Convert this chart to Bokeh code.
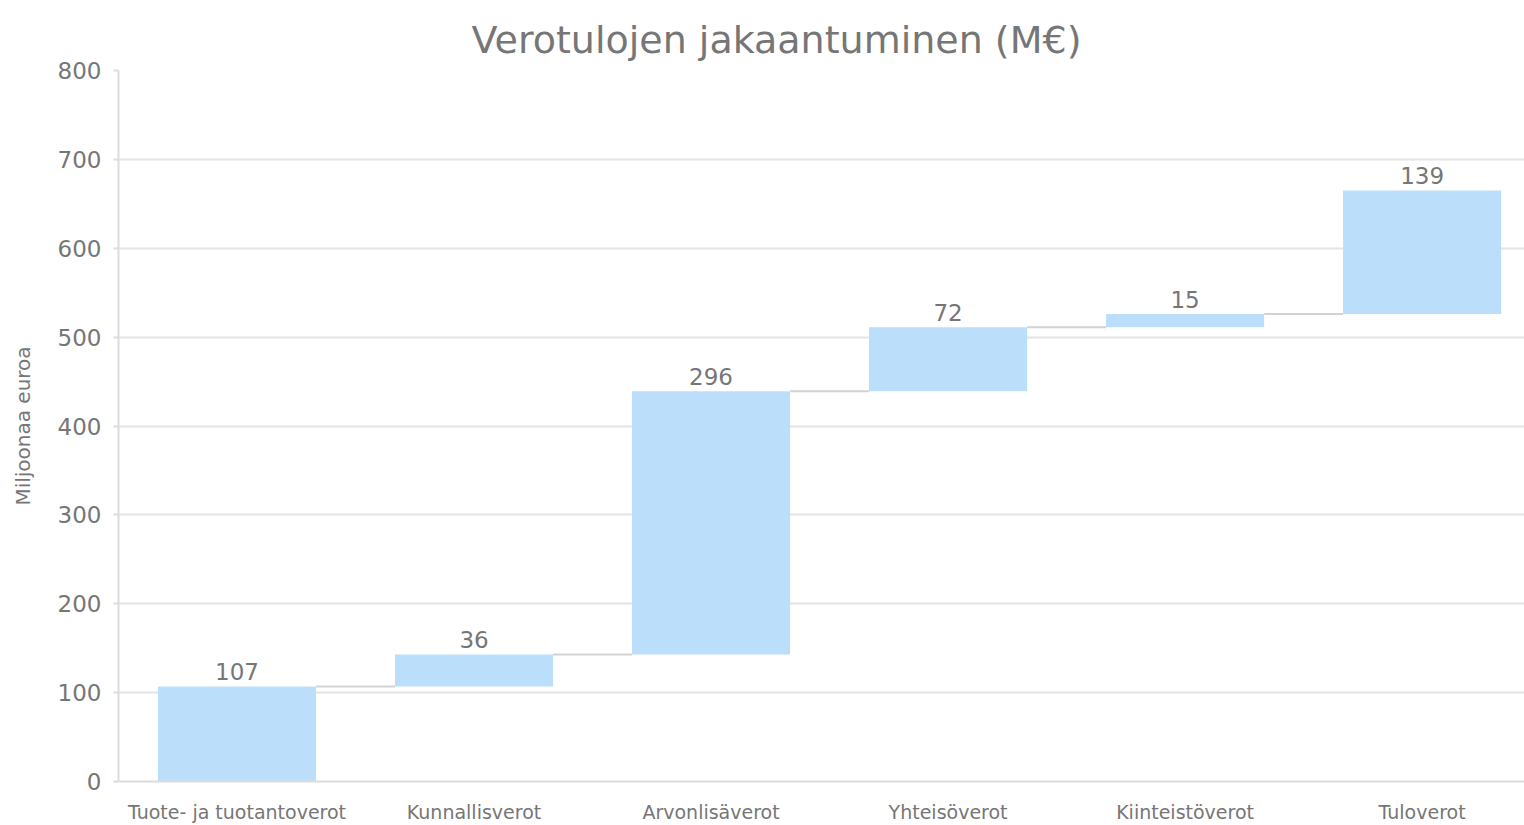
import numpy as np
from bokeh.plotting import figure
from bokeh.models import ColumnDataSource, Range1d, FixedTicker, LabelSet
from bokeh.core.properties import value
from bokeh.embed import file_html
from bokeh.resources import INLINE

title_text = "Verotulojen jakaantuminen (M€)"
categories = ["Tuote- ja tuotantoverot", "Kunnallisverot", "Arvonlisäverot",
              "Yhteisöverot", "Kiinteistöverot", "Tuloverot"]
values = [107, 36, 296, 72, 15, 139]
y_ticks = [0, 100, 200, 300, 400, 500, 600, 700, 800]

TEXT = "#767676"
FONT = "DejaVu Sans"
BAR_W = 0.667

idx = np.arange(len(categories))
vals = np.array(values)
top = np.cumsum(vals)
bottom = top - vals

src = ColumnDataSource(dict(x=idx, top=top, bottom=bottom,
                            label=[str(v) for v in values]))
conn = ColumnDataSource(dict(x0=idx[:-1] + BAR_W / 2, x1=idx[1:] - BAR_W / 2,
                             y=top[:-1]))

p = figure(width=1524, height=825, output_backend="svg", toolbar_location=None,
           x_range=Range1d(-0.5, 5.432), y_range=Range1d(0, 800),
           min_border_left=118, min_border_right=0, min_border_top=70,
           min_border_bottom=41, title=title_text)

p.title.align = "left"
p.title.offset = 353
p.title.standoff = 14
p.title.vertical_align = "top"
p.title.text_font = FONT
p.title.text_font_size = "38px"
p.title.text_font_style = "normal"
p.title.text_color = TEXT

p.vbar(x="x", bottom="bottom", top="top", width=BAR_W, source=src,
       fill_color="#bbdefb", line_color=None)
p.segment(x0="x0", y0="y", x1="x1", y1="y", source=conn,
          line_color="#d2d2d2", line_width=2)

labels = LabelSet(x="x", y="top", text="label", source=src, y_offset=6,
                  text_align="center", text_baseline="bottom",
                  text_font=value(FONT), text_font_size=value("23px"),
                  text_color=TEXT)
p.add_layout(labels)

p.outline_line_color = None
p.background_fill_color = "white"
p.border_fill_color = "white"

p.xgrid.visible = False
p.ygrid.grid_line_color = "#e4e4e4"
p.ygrid.grid_line_width = 2

xa = p.xaxis[0]
xa.ticker = FixedTicker(ticks=list(idx))
xa.major_label_overrides = {int(i): c for i, c in zip(idx, categories)}
xa.major_tick_line_color = None
xa.minor_tick_line_color = None
xa.axis_line_color = "#dcdcdc"
xa.axis_line_width = 2
xa.major_label_standoff = 13
xa.major_label_text_font = FONT
xa.major_label_text_font_size = "19px"
xa.major_label_text_color = TEXT

ya = p.yaxis[0]
ya.ticker = FixedTicker(ticks=y_ticks)
ya.axis_label = "Miljoonaa euroa"
ya.axis_label_text_font = FONT
ya.axis_label_text_font_size = "20px"
ya.axis_label_text_font_style = "normal"
ya.axis_label_text_color = TEXT
ya.axis_label_standoff = 20
ya.axis_line_color = "#dcdcdc"
ya.axis_line_width = 2
ya.major_tick_line_color = "#dcdcdc"
ya.major_tick_line_width = 2
ya.major_tick_out = 5
ya.major_tick_in = 0
ya.minor_tick_line_color = None
ya.major_label_standoff = 12
ya.major_label_text_font = FONT
ya.major_label_text_font_size = "23px"
ya.major_label_text_color = TEXT

open("out.html", "w").write(file_html(p, INLINE))
